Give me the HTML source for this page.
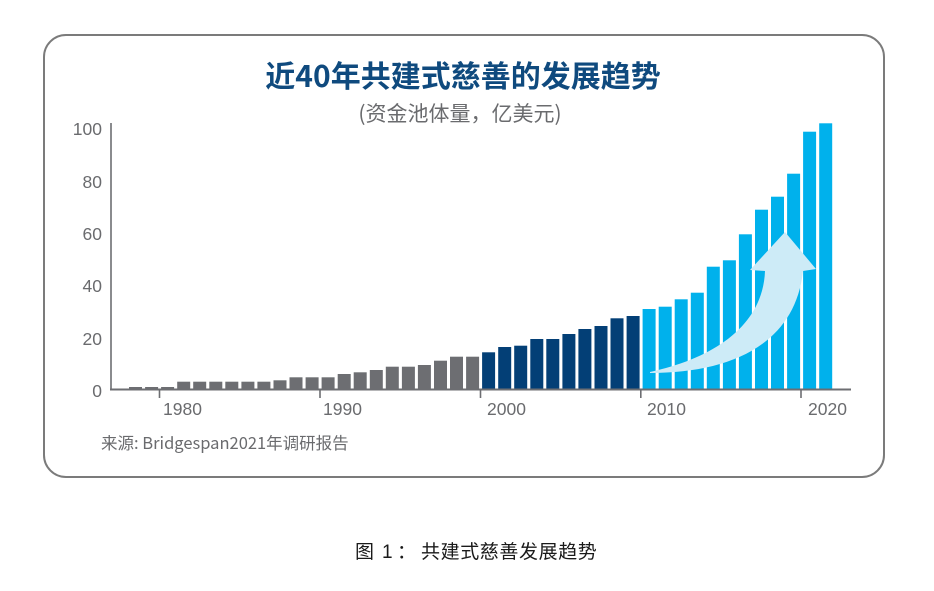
<!DOCTYPE html>
<html>
<head>
<meta charset="utf-8">
<style>
  html,body{margin:0;padding:0;background:#ffffff;}
  body{width:934px;height:591px;overflow:hidden;}
  svg{display:block;}
  text{font-family:"Liberation Sans","Noto Sans CJK SC",sans-serif;}
  .cjk{font-family:"Noto Sans CJK SC","Liberation Sans",sans-serif;}
</style>
</head>
<body>
<svg width="934" height="591" viewBox="0 0 934 591" xmlns="http://www.w3.org/2000/svg">
  <!-- card -->
  <rect x="44" y="35" width="840" height="442" rx="22" ry="22" fill="#ffffff" stroke="#7b7b7b" stroke-width="2"/>

  <!-- title -->
  <text x="463" y="87" text-anchor="middle" class="cjk" font-size="30" font-weight="700" fill="#0f4a7e">近40年共建式慈善的发展趋势</text>
  <text x="460" y="121" text-anchor="middle" class="cjk" font-size="21" fill="#6a6b6e">(资金池体量，亿美元)</text>

  <!-- y labels -->
  <g font-size="17.5" fill="#6a6b6e" text-anchor="end" class="cjk">
    <text x="102" y="135">100</text>
    <text x="102" y="188">80</text>
    <text x="102" y="240">60</text>
    <text x="102" y="292">40</text>
    <text x="102" y="345">20</text>
    <text x="102" y="397">0</text>
  </g>

  <!-- bars -->
  <g fill="#6d6e72">
    <rect x="129.0" y="387" width="13" height="2.5"/>
    <rect x="145.1" y="387" width="13" height="2.5"/>
    <rect x="161.1" y="387" width="13" height="2.5"/>
    <rect x="177.2" y="381.7" width="13" height="7.8"/>
    <rect x="193.2" y="381.7" width="13" height="7.8"/>
    <rect x="209.3" y="381.7" width="13" height="7.8"/>
    <rect x="225.3" y="381.7" width="13" height="7.8"/>
    <rect x="241.4" y="381.7" width="13" height="7.8"/>
    <rect x="257.4" y="381.7" width="13" height="7.8"/>
    <rect x="273.5" y="380.3" width="13" height="9.2"/>
    <rect x="289.5" y="377.3" width="13" height="12.2"/>
    <rect x="305.6" y="377.3" width="13" height="12.2"/>
    <rect x="321.6" y="377.3" width="13" height="12.2"/>
    <rect x="337.7" y="374" width="13" height="15.5"/>
    <rect x="353.7" y="372.3" width="13" height="17.2"/>
    <rect x="369.8" y="370" width="13" height="19.5"/>
    <rect x="385.8" y="366.7" width="13" height="22.8"/>
    <rect x="401.9" y="366.7" width="13" height="22.8"/>
    <rect x="417.9" y="365" width="13" height="24.5"/>
    <rect x="434.0" y="360.7" width="13" height="28.8"/>
    <rect x="450.0" y="356.7" width="13" height="32.8"/>
    <rect x="466.1" y="356.7" width="13" height="32.8"/>
  </g>
  <g fill="#033f76">
    <rect x="482.1" y="352.3" width="13" height="37.2"/>
    <rect x="498.2" y="347" width="13" height="42.5"/>
    <rect x="514.2" y="345.7" width="13" height="43.8"/>
    <rect x="530.3" y="339" width="13" height="50.5"/>
    <rect x="546.3" y="339" width="13" height="50.5"/>
    <rect x="562.4" y="334" width="13" height="55.5"/>
    <rect x="578.4" y="329" width="13" height="60.5"/>
    <rect x="594.5" y="326" width="13" height="63.5"/>
    <rect x="610.5" y="318.3" width="13" height="71.2"/>
    <rect x="626.6" y="316" width="13" height="73.5"/>
  </g>
  <g fill="#00b1ec">
    <rect x="642.6" y="309" width="13" height="80.5"/>
    <rect x="658.7" y="306.7" width="13" height="82.8"/>
    <rect x="674.7" y="299.3" width="13" height="90.2"/>
    <rect x="690.8" y="292.7" width="13" height="96.8"/>
    <rect x="706.8" y="266.7" width="13" height="122.8"/>
    <rect x="722.9" y="260.3" width="13" height="129.2"/>
    <rect x="738.9" y="234.3" width="13" height="155.2"/>
    <rect x="755.0" y="209.7" width="13" height="179.8"/>
    <rect x="771.0" y="196.7" width="13" height="192.8"/>
    <rect x="787.1" y="173.7" width="13" height="215.8"/>
    <rect x="803.1" y="131.7" width="13" height="257.8"/>
    <rect x="819.2" y="123.3" width="13" height="266.2"/>
  </g>

  <!-- arrow -->
  <path d="M650,372 C715,358 763,325 765,271 L750,270 L785,232 L816,269 L803,271 C795,345 730,373 650,373 Z" fill="#cdebf7"/>

  <!-- axes -->
  <line x1="111" y1="123" x2="111" y2="390" stroke="#6d6e72" stroke-width="1.6"/>
  <line x1="110" y1="389.5" x2="851" y2="389.5" stroke="#6d6e72" stroke-width="2"/>
  <g stroke="#6d6e72" stroke-width="1.6">
    <line x1="159.5" y1="389" x2="159.5" y2="398"/>
    <line x1="320" y1="389" x2="320" y2="398"/>
    <line x1="480.5" y1="389" x2="480.5" y2="398"/>
    <line x1="640.8" y1="389" x2="640.8" y2="398"/>
    <line x1="801" y1="389" x2="801" y2="398"/>
  </g>

  <!-- x labels -->
  <g font-size="17.5" fill="#6a6b6e" class="cjk">
    <text x="163" y="415">1980</text>
    <text x="323" y="415">1990</text>
    <text x="487" y="415">2000</text>
    <text x="647" y="415">2010</text>
    <text x="808" y="415">2020</text>
  </g>

  <!-- source -->
  <text x="101" y="449" class="cjk" font-size="16.5" fill="#6a6b6e">来源: Bridgespan2021年调研报告</text>

  <!-- caption -->
  <g class="cjk" font-size="19" fill="#1a1a1a">
    <text x="355" y="558">图</text>
    <text x="382" y="558">1</text>
    <text x="397" y="558">：</text>
    <text x="421" y="558" letter-spacing="0.6">共建式慈善发展趋势</text>
  </g>
</svg>
</body>
</html>
